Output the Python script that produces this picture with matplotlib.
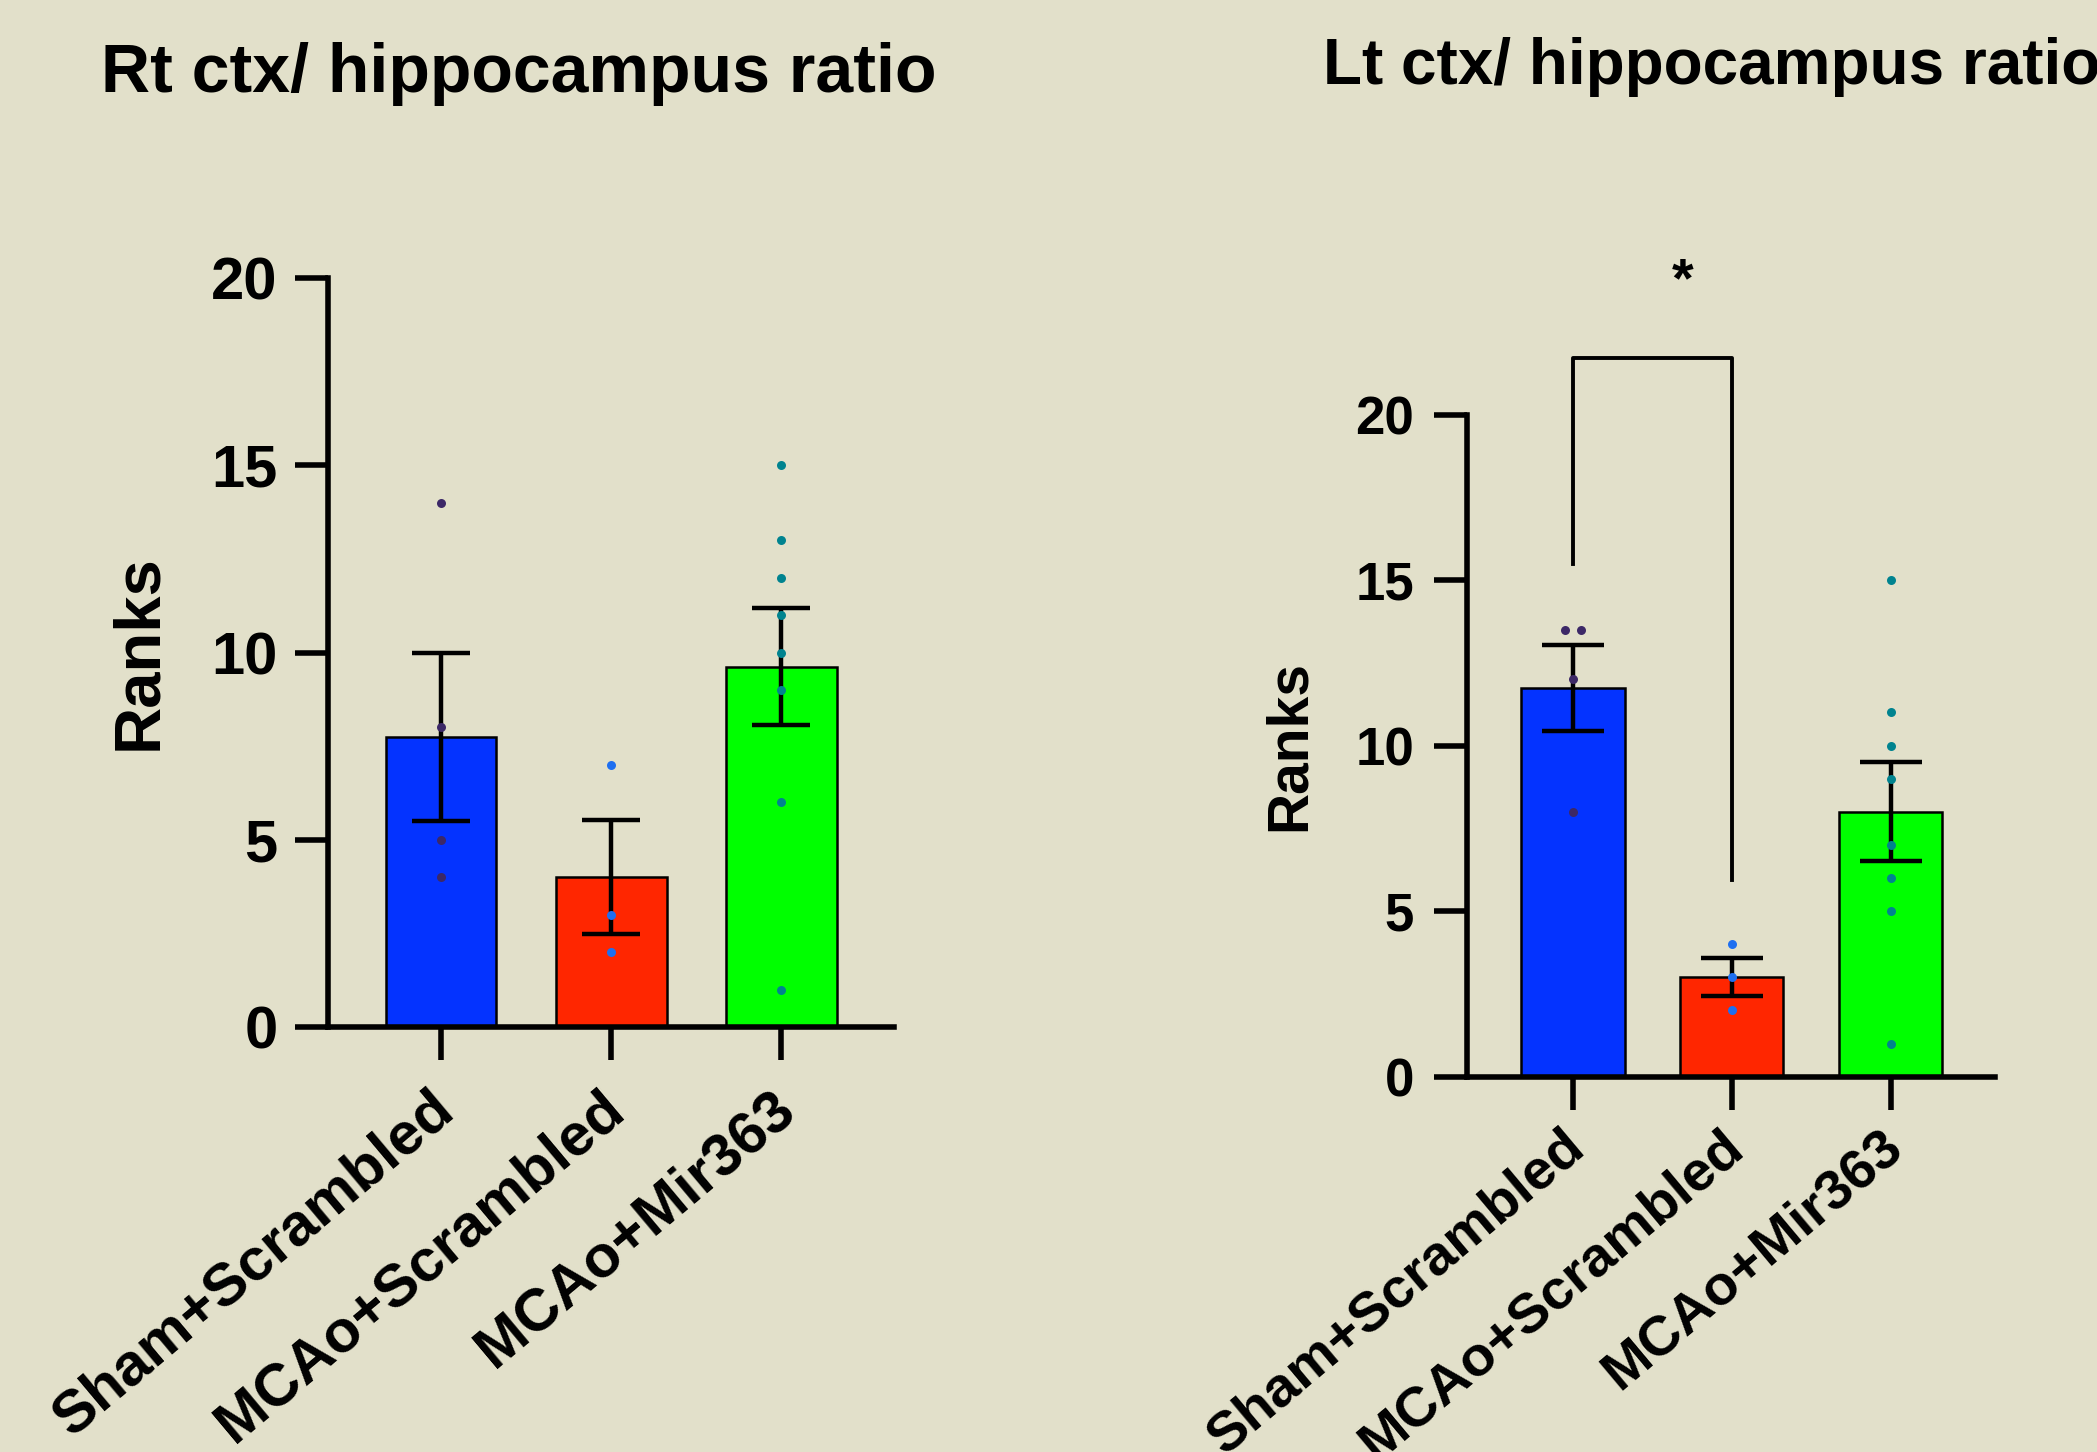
import numpy as np
import matplotlib
matplotlib.use("Agg")
import matplotlib.pyplot as plt
from matplotlib.transforms import ScaledTranslation

plt.rcParams['font.family'] = ['Liberation Sans', 'DejaVu Sans']
plt.rcParams['font.weight'] = 'bold'

groups = ['Sham+Scrambled', 'MCAo+Scrambled', 'MCAo+Mir363']

# ranks
rt_sham = [14, 8, 5, 4]
rt_mcao = [7, 3, 2]
rt_mir = [15, 13, 12, 11, 10, 9, 6, 1]

lt_sham = [13.5, 13.5, 12, 8]
lt_mcao = [4, 3, 2]
lt_mir = [15, 11, 10, 9, 7, 6, 5, 1]

bar_colors = ['#0433FF', '#FF2600', '#00FF00']
dot_colors = ['#3C2867', '#1E6FF0', '#00838F']
bg = '#E2E0CA'


def dot_x(vals, center, step=0.05):
    # spread tied values side by side
    xs = []
    for i, v in enumerate(vals):
        same = [j for j, w in enumerate(vals) if w == v]
        k = same.index(i)
        xs.append(center + (k - (len(same) - 1) / 2) * 2 * step)
    return xs


def panel(ax, data, tick_fs, label_fs, xt_fs, capsize, ypad, labelpad, xlab_dy):
    ax.set_facecolor(bg)
    x = np.arange(len(data))
    means = [np.mean(d) for d in data]
    sems = [np.std(d, ddof=1) / np.sqrt(len(d)) for d in data]
    ax.bar(x, means, width=0.65, color=bar_colors, edgecolor='black', linewidth=1.8, zorder=2)
    ax.errorbar(x, means, yerr=sems, fmt='none', ecolor='black', elinewidth=3.2,
                capsize=capsize, capthick=3.2, zorder=3)
    for i, d in enumerate(data):
        ax.scatter(dot_x(d, i), d, s=42, color=dot_colors[i], zorder=4, linewidths=0)
    ax.set_ylim(0, 20)
    ax.set_xlim(-0.667, 2.66)
    ax.set_yticks([0, 5, 10, 15, 20])
    ax.set_xticks(x)
    ax.set_xticklabels([])
    for s in ['top', 'right']:
        ax.spines[s].set_visible(False)
    for s in ['left', 'bottom']:
        ax.spines[s].set_linewidth(4)
    ax.tick_params(axis='both', width=4, length=24, labelsize=tick_fs)
    ax.tick_params(axis='y', pad=ypad)
    ax.set_ylabel('Ranks', fontsize=label_fs, fontweight='bold', labelpad=labelpad)
    off = ScaledTranslation(-0.12, -xlab_dy, fig.dpi_scale_trans)
    for i, g in enumerate(groups):
        ax.text(i, 0, g, transform=ax.get_xaxis_transform() + off, rotation=40,
                ha='right', va='top', rotation_mode='anchor', fontsize=xt_fs,
                fontweight='bold', clip_on=False)


fig = plt.figure(figsize=(20.97, 14.52), dpi=100, facecolor=bg)
ax1 = fig.add_axes([0.1563, 0.2927, 0.2698, 0.5157])
ax2 = fig.add_axes([0.6996, 0.2585, 0.2519, 0.456])

panel(ax1, [rt_sham, rt_mcao, rt_mir], 43, 47, 43, 21, 12, 30, 0.54)
panel(ax2, [lt_sham, lt_mcao, lt_mir], 38, 41, 40.5, 22, 14, 28, 0.44)

# significance bracket
ax2.plot([0, 0, 1, 1], [15.5, 21.7, 21.7, 5.95], color='black', linewidth=2.8, clip_on=False)
ax2.text(0.69, 24.0, '*', ha='center', va='center', fontsize=40, fontweight='bold')

fig.text(0.048, 0.949, 'Rt ctx/ hippocampus ratio', fontsize=49, fontweight='bold', va='center')
fig.text(0.631, 0.954, 'Lt ctx/ hippocampus ratio', fontsize=46, fontweight='bold', va='center')

fig.savefig('out.png', dpi=100, facecolor=bg)
